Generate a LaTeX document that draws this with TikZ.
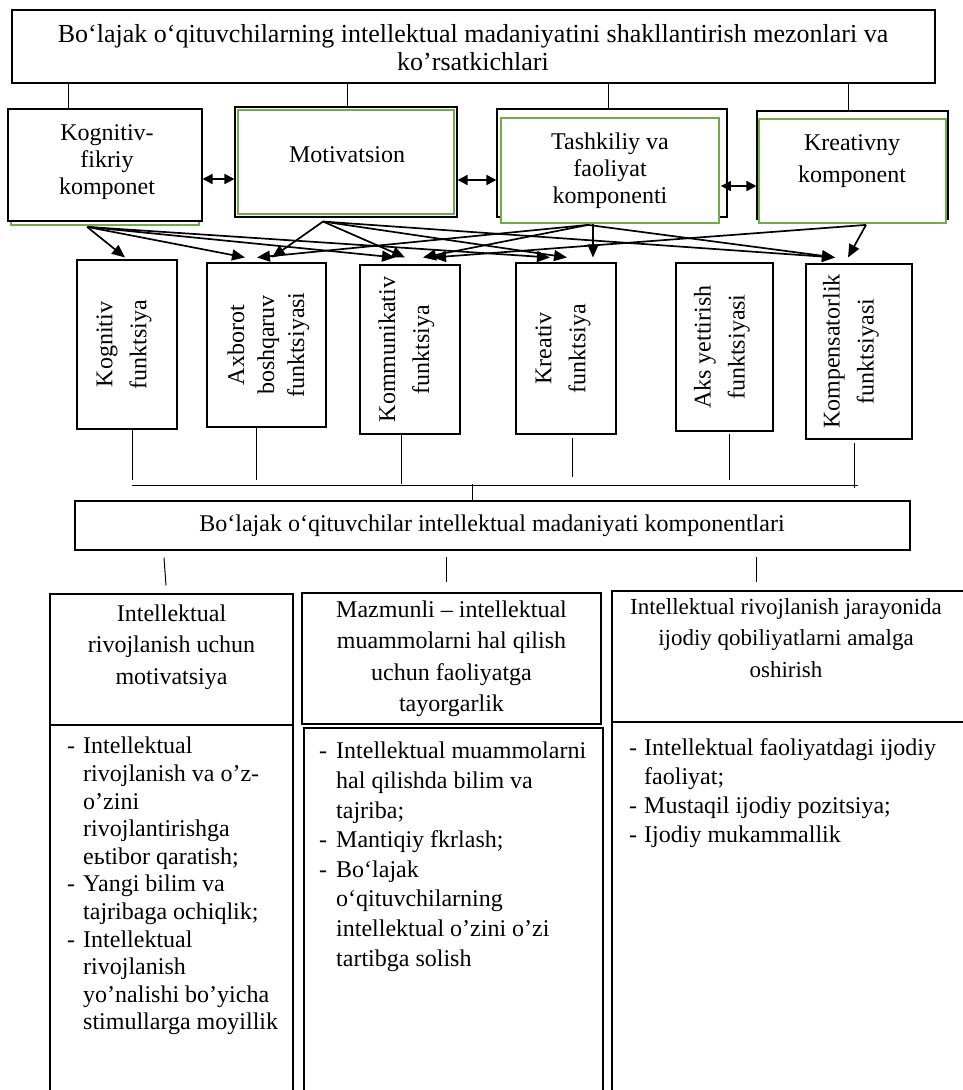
\documentclass[tikz,border=0pt]{standalone}
\usepackage{fontspec}
\setmainfont{Liberation Serif}
\usetikzlibrary{arrows.meta,calc}
\definecolor{greenc}{RGB}{112,173,71}
\begin{document}
\begin{tikzpicture}[x=1pt,y=-1pt,
 box/.style={draw=black,line width=1.1pt,fill=white,inner sep=0pt},
 gbx/.style={draw=greenc,line width=1.8pt,fill=white,inner sep=0pt},
 ttl/.style={inner sep=0pt,align=center,font=\fontsize{26}{28}\selectfont},
 ctxt/.style={inner sep=0pt,align=center,font=\fontsize{24}{27}\selectfont},
 ftxt/.style={inner sep=0pt,align=center,rotate=90,font=\fontsize{24}{34}\selectfont},
 btxt/.style={inner sep=0pt,align=center,font=\fontsize{24}{31.5}\selectfont},
 ltxt/.style={inner sep=0pt,align=left,anchor=north west},
 arr/.style={line width=1.7pt,-{Triangle[length=13pt,width=11pt]}},
 darr/.style={line width=1.7pt,{Triangle[length=10pt,width=10pt]}-{Triangle[length=10pt,width=10pt]}},
 ln/.style={line width=1pt}]
\useasboundingbox (0,0) rectangle (962,1090);
\fill[white] (0,0) rectangle (962,1090);

% title
\node[box,line width=1.4pt,minimum width=923pt,minimum height=73pt] (top) at (473.5,46.5) {};
\node[ttl] (topT) at (473,48) {Bo‘lajak o‘qituvchilarning intellektual madaniyatini shakllantirish mezonlari va\\ko’rsatkichlari};

% components
\node[draw=greenc,line width=1.8pt,inner sep=0pt,minimum width=188pt,minimum height=113pt] (kogG) at (105,168.5) {};
\node[box,minimum width=194pt,minimum height=112pt] (kog) at (105,165) {};
\node[box,minimum width=222pt,minimum height=110pt] (mot) at (346,162) {};
\node[gbx,minimum width=216pt,minimum height=104pt] (motG) at (346,162) {};
\node[box,minimum width=230pt,minimum height=108pt] (tas) at (612,163) {};
\node[gbx,minimum width=218pt,minimum height=105pt] (tasG) at (610,170.5) {};
\node[box,minimum width=191pt,minimum height=108pt] (kre) at (852.5,165) {};
\node[gbx,minimum width=187pt,minimum height=104pt] (kreG) at (852.5,171) {};

\node[ctxt] (kogT) at (107,162) {Kognitiv-\\fikriy\\komponet};
\node[ctxt] (motT) at (347,155) {Motivatsion};
\node[ctxt] (tasT) at (610,171) {Tashkiliy va\\faoliyat\\komponenti};
\node[ctxt,font=\fontsize{24}{32}\selectfont] (kreT) at (852,161) {Kreativny\\komponent};

\coordinate (c1) at (68,0);
\coordinate (c2) at (347,0);
\coordinate (c3) at (608,0);
\coordinate (c4) at (848,0);
\draw[ln] (top.south -| c1) -- (kog.north -| c1);
\draw[ln] (top.south -| c2) -- (mot.north -| c2);
\draw[ln] (top.south -| c3) -- (tas.north -| c3);
\draw[ln] (top.south -| c4) -- (kre.north -| c4);

\draw[darr] ($(kog.east)+(0,14)$) -- ($(mot.west)+(0,17)$);
\draw[darr] ($(mot.east)+(0,18)$) -- ($(tas.west)+(0,17)$);
\draw[darr] ($(tasG.east)+(1,15.5)$) -- ($(kre.west)+(0,21)$);

% function boxes
\node[box,minimum width=100pt,minimum height=169pt] (fkog) at (127,344.5) {};
\node[box,minimum width=119pt,minimum height=164pt] (fax) at (266.5,345) {};
\node[box,minimum width=100pt,minimum height=169pt] (fkom) at (410,349.5) {};
\node[box,minimum width=100pt,minimum height=171pt] (fkre) at (566,348.5) {};
\node[box,minimum width=97pt,minimum height=168pt] (faks) at (724.5,347) {};
\node[box,minimum width=106pt,minimum height=175pt] (fkmp) at (859,351.5) {};

\node[ftxt] (fkogT) at ($(fkog.center)+(-3,0)$) {Kognitiv\\funktsiya};
\node[ftxt,font=\fontsize{24}{30}\selectfont] (faxT) at ($(fax.center)+(2,0)$) {Axborot\\boshqaruv\\funktsiyasi};
\node[ftxt] (fkomT) at ($(fkom.center)+(-3.5,0)$) {Kommunikativ\\funktsiya};
\node[ftxt] (fkreT) at ($(fkre.center)+(-3,0)$) {Kreativ\\funktsiya};
\node[ftxt] (faksT) at ($(faks.center)+(-2.5,0)$) {Aks yettirish\\funktsiyasi};
\node[ftxt] (fkmpT) at ($(fkmp.center)+(-8,0)$) {Kompensatorlik\\funktsiyasi};

% arrows
\coordinate (kogS) at ($(kogG.south west)+(77,1)$);
\coordinate (motS) at ($(mot.south)+(-23,4)$);
\coordinate (tasS) at ($(tasG.south)+(-22,1)$);
\coordinate (tasV) at ($(tasG.south)+(-17,0)$);
\coordinate (kreS) at ($(kreG.south)+(13.5,1)$);

\draw[arr] (kogS) -- ($(fkog.north)+(-2,-2)$);
\draw[arr] (kogS) -- ($(fax.north)+(-21.5,-5)$);
\draw[arr] (kogS) -- ($(fkom.north)+(-15,-7)$);
\draw[arr] (kogS) -- ($(fkre.north)+(-16,-5)$);
\draw[arr] (motS) -- ($(fax.north)+(5.5,-5)$);
\draw[arr] (motS) -- ($(fkom.north)+(-5,-7)$);
\draw[arr] (motS) -- ($(fkre.north)+(1,-5)$);
\draw[arr] (motS) -- ($(fkmp.north)+(-24,-6)$);
\draw[arr] (tasS) -- ($(fax.north)+(-9.5,-5)$);
\draw[arr] (tasS) -- ($(fkom.north)+(13,-7)$);
\draw[arr] (tasV) -- ($(fkre.north)+(27,-5)$);
\draw[arr] (tasS) -- ($(fkmp.north)+(-24,-6)$);
\draw[arr] (kreS) -- ($(fkom.north)+(23,-7)$);
\draw[arr] (kreS) -- ($(fkmp.north)+(-11,-6)$);

% drops and bus
\draw[ln] ($(fkog.south)+(5,0)$) -- ++(0,50);
\draw[ln] ($(fax.south)+(-10.5,0)$) -- ++(0,52);
\draw[ln] ($(fkom.south)+(-9,0)$) -- ++(0,49);
\draw[ln] ($(fkre.south)+(6,3)$) -- ++(0,39);
\draw[ln] ($(faks.south)+(4.5,2)$) -- ++(0,46);
\draw[ln] ($(fkmp.south)+(-5,3)$) -- ++(0,45);
\draw[ln] ($(fkog.south)+(5,56)$) -- ($(fkmp.south)+(-1,46)$);

\node[box,minimum width=835pt,minimum height=49pt] (comp) at (492.5,525.5) {};
\node[ctxt] (compT) at (492,526) {Bo‘lajak o‘qituvchilar intellektual madaniyati komponentlari};
\draw[ln] ($(comp.north)+(-20.5,-16)$) -- ($(comp.north)+(-20.5,0)$);

% bottom boxes
\node[box,minimum width=243pt,minimum height=131pt] (b1t) at (171.5,659.5) {};
\node[box,minimum width=243pt,minimum height=375pt] (b1l) at (171.5,912.5) {};
\node[box,minimum width=299pt,minimum height=131pt] (b2t) at (451.5,658.5) {};
\node[box,minimum width=299pt,minimum height=372pt] (b2l) at (453.5,914) {};
\node[box,minimum width=363pt,minimum height=131pt] (b3t) at (793.5,656.5) {};
\node[box,minimum width=363pt,minimum height=378pt] (b3l) at (793.5,911) {};

\draw[ln] ($(comp.south)+(-328.5,7)$) -- ($(b1t.north)+(-5.5,-8)$);
\draw[ln] ($(comp.south)+(-46.5,6)$) -- ($(b2t.north)+(-5.5,-10)$);
\draw[ln] ($(comp.south)+(263.5,6)$) -- ($(b3t.north)+(-37.5,-8)$);

\node[btxt] (b1T) at (171.5,647) {Intellektual\\rivojlanish uchun\\motivatsiya};
\node[btxt] (b2T) at (451.5,659) {Mazmunli – intellektual\\muammolarni hal qilish\\uchun faoliyatga\\tayorgarlik};
\node[btxt,font=\fontsize{23}{31.5}\selectfont] (b3T) at (786,638) {Intellektual rivojlanish jarayonida\\ijodiy qobiliyatlarni amalga\\oshirish};

\node[ltxt,font=\fontsize{24}{27.6}\selectfont] (b1L) at (67,737) {\makebox[16pt][l]{-}Intellektual\\
\hspace*{16pt}rivojlanish va o’z-\\
\hspace*{16pt}o’zini\\
\hspace*{16pt}rivojlantirishga\\
\hspace*{16pt}eьtibor qaratish;\\
\makebox[16pt][l]{-}Yangi bilim va\\
\hspace*{16pt}tajribaga ochiqlik;\\
\makebox[16pt][l]{-}Intellektual\\
\hspace*{16pt}rivojlanish\\
\hspace*{16pt}yo’nalishi bo’yicha\\
\hspace*{16pt}stimullarga moyillik};

\node[ltxt,font=\fontsize{24}{29.6}\selectfont] (b2L) at (319,742) {\makebox[17pt][l]{-}Intellektual muammolarni\\
\hspace*{17pt}hal qilishda bilim va\\
\hspace*{17pt}tajriba;\\
\makebox[17pt][l]{-}Mantiqiy fkrlash;\\
\makebox[17pt][l]{-}Bo‘lajak\\
\hspace*{17pt}o‘qituvchilarning\\
\hspace*{17pt}intellektual o’zini o’zi\\
\hspace*{17pt}tartibga solish};

\node[ltxt,font=\fontsize{24}{29}\selectfont] (b3L) at (629,738) {\makebox[15pt][l]{-}Intellektual faoliyatdagi ijodiy\\
\hspace*{15pt}faoliyat;\\
\makebox[15pt][l]{-}Mustaqil ijodiy pozitsiya;\\
\makebox[15pt][l]{-}Ijodiy mukammallik};
\end{tikzpicture}
\end{document}
